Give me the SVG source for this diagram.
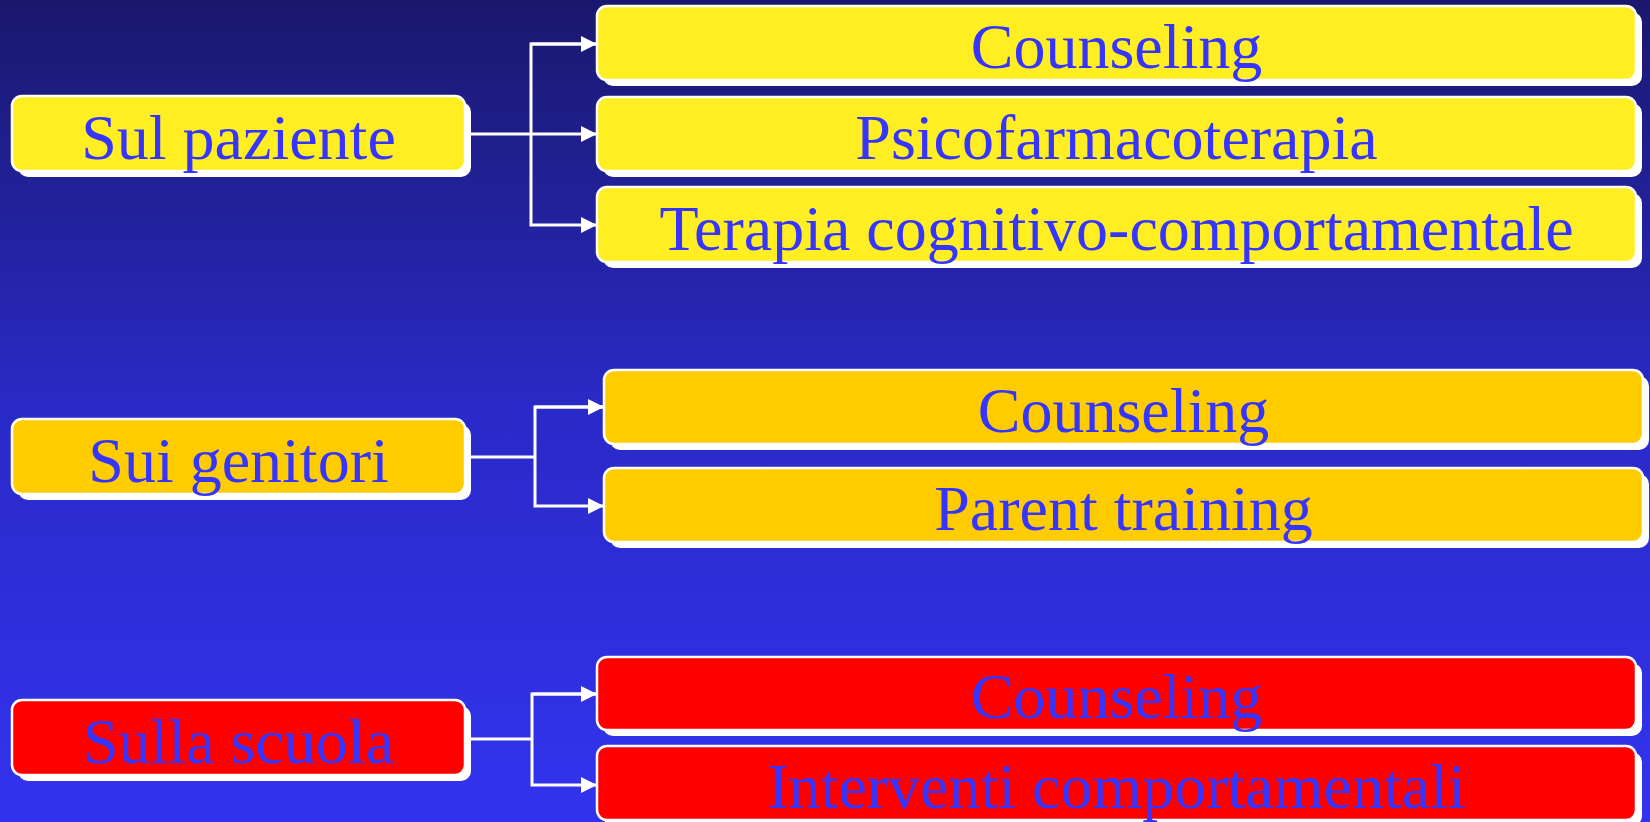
<svg xmlns="http://www.w3.org/2000/svg" width="1650" height="822" viewBox="0 0 1650 822">
<defs>
<linearGradient id="bg" x1="0" y1="0" x2="0" y2="1">
<stop offset="0" stop-color="#1a186c"/>
<stop offset="0.5" stop-color="#2a2ac8"/>
<stop offset="1" stop-color="#3333ef"/>
</linearGradient>
<marker id="arr" markerUnits="userSpaceOnUse" markerWidth="18" markerHeight="18" refX="16" refY="8" orient="auto">
<path d="M0,0 L16,8 L0,16 Z" fill="#ffffff"/>
</marker>
<style>
.sh{fill:#ffffff;}
.bx{stroke:#ffffff;stroke-width:2.5;}
.y1{fill:#ffee22;}
.y2{fill:#ffcc00;}
.rd{fill:#ff0000;}
.t{font-family:"Liberation Serif","Times New Roman",serif;font-size:64px;fill:#3535ff;text-anchor:middle;}
.c{fill:none;stroke:#ffffff;stroke-width:3;}
</style>
</defs>
<rect x="0" y="0" width="1650" height="822" fill="url(#bg)"/>

<g id="connectors">
<path class="c" d="M471,134 L597,134" marker-end="url(#arr)"/>
<path class="c" d="M597,44 L531,44 L531,225 L597,225" marker-end="url(#arr)"/>
<path class="c" d="M531,44 L597,44" marker-end="url(#arr)"/>
<path class="c" d="M471,457 L535,457"/>
<path class="c" d="M604,407 L535,407 L535,506 L604,506" marker-end="url(#arr)"/>
<path class="c" d="M535,407 L604,407" marker-end="url(#arr)"/>
<path class="c" d="M471,739 L532,739"/>
<path class="c" d="M597,694 L532,694 L532,785 L597,785" marker-end="url(#arr)"/>
<path class="c" d="M532,694 L597,694" marker-end="url(#arr)"/>
</g>

<g id="n-sul-paziente">
<rect class="sh" x="18" y="102" width="453" height="75" rx="10"/>
<rect class="bx y1" x="12" y="96" width="453" height="75" rx="10"/>
<text class="t" x="238.5" y="159">Sul paziente</text>
</g>
<g id="n-counseling-1">
<rect class="sh" x="603" y="12" width="1039" height="74" rx="10"/>
<rect class="bx y1" x="597" y="6" width="1039" height="74" rx="10"/>
<text class="t" x="1116.5" y="68">Counseling</text>
</g>
<g id="n-psicofarmacoterapia">
<rect class="sh" x="603" y="103" width="1039" height="74" rx="10"/>
<rect class="bx y1" x="597" y="97" width="1039" height="74" rx="10"/>
<text class="t" x="1116.5" y="159">Psicofarmacoterapia</text>
</g>
<g id="n-terapia">
<rect class="sh" x="603" y="193" width="1039" height="75" rx="10"/>
<rect class="bx y1" x="597" y="187" width="1039" height="75" rx="10"/>
<text class="t" x="1116.5" y="250">Terapia cognitivo-comportamentale</text>
</g>

<g id="n-sui-genitori">
<rect class="sh" x="18" y="425" width="453" height="75" rx="10"/>
<rect class="bx y2" x="12" y="419" width="453" height="75" rx="10"/>
<text class="t" x="238.5" y="482">Sui genitori</text>
</g>
<g id="n-counseling-2">
<rect class="sh" x="610" y="376" width="1039" height="74" rx="10"/>
<rect class="bx y2" x="604" y="370" width="1039" height="74" rx="10"/>
<text class="t" x="1123.5" y="432">Counseling</text>
</g>
<g id="n-parent-training">
<rect class="sh" x="610" y="474" width="1039" height="74" rx="10"/>
<rect class="bx y2" x="604" y="468" width="1039" height="74" rx="10"/>
<text class="t" x="1123.5" y="530">Parent training</text>
</g>

<g id="n-sulla-scuola">
<rect class="sh" x="18" y="706" width="453" height="75" rx="10"/>
<rect class="bx rd" x="12" y="700" width="453" height="75" rx="10"/>
<text class="t" x="238.5" y="763">Sulla scuola</text>
</g>
<g id="n-counseling-3">
<rect class="sh" x="603" y="663" width="1039" height="73" rx="10"/>
<rect class="bx rd" x="597" y="657" width="1039" height="73" rx="10"/>
<text class="t" x="1116.5" y="718">Counseling</text>
</g>
<g id="n-interventi">
<rect class="sh" x="603" y="752" width="1039" height="74" rx="10"/>
<rect class="bx rd" x="597" y="746" width="1039" height="74" rx="10"/>
<text class="t" x="1116.5" y="808">Interventi comportamentali</text>
</g>
</svg>
